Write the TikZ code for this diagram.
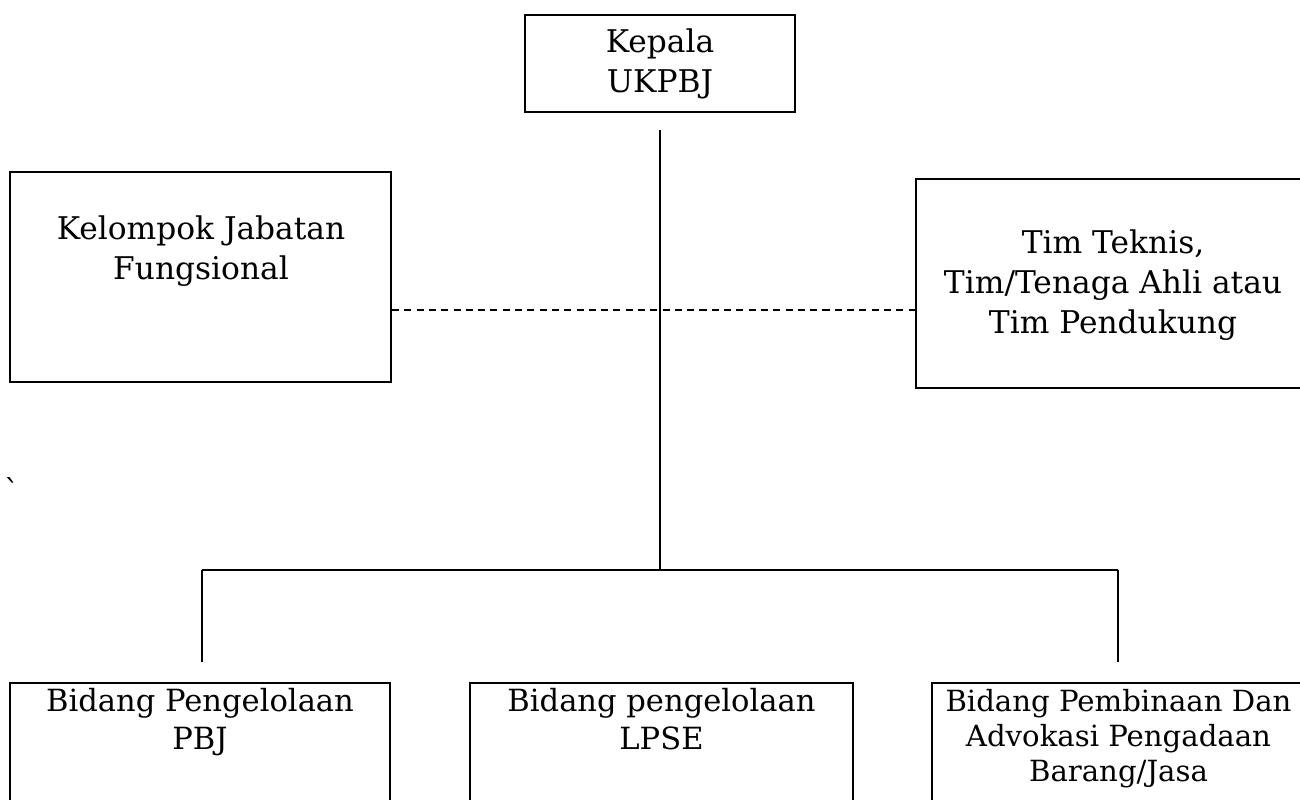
\documentclass[tikz,border=0pt]{standalone}
\usepackage{fontspec}
\setmainfont{DejaVu Serif}
\usepackage{tikz}
\usetikzlibrary{positioning}
\tikzset{
    org box/.style={
        draw,
        line width=1.2pt,
        inner sep=0pt
    },
    org text/.style={
        align=center,
        inner sep=0pt,
        font=\fontsize{17.8}{22.8}\selectfont
    },
    org small text/.style={
        org text,
        font=\fontsize{17.4}{21.6}\selectfont
    },
    org tiny text/.style={
        org text,
        font=\fontsize{16.6}{19.9}\selectfont
    },
    org line/.style={line width=0.9pt},
    org dashed/.style={line width=0.6pt, dash pattern=on 4pt off 3pt}
}

\begin{document}
\begin{tikzpicture}[x=0.02cm, y=-0.02cm]
    \clip (0,0) rectangle (1300,799);
    \fill[white] (0,0) rectangle (1300,799);

    % top level
    \node[org box, org text, minimum width=5.4cm, minimum height=1.94cm] (kepala) at (660,63.5) {Kepala\\UKPBJ};

    % staff boxes
    \node[org box, minimum width=7.62cm, minimum height=4.2cm] (kjf) at (200.5,277) {};
    \node[org text] (kjf text) at (201,251) {Kelompok Jabatan\\Fungsional};
    \node[org box, minimum width=7.78cm, minimum height=4.18cm] (tim) at (1110,283.5) {};
    \node[org text] (tim text) at (1113,285) {Tim Teknis,\\Tim/Tenaga Ahli atau\\Tim Pendukung};

    % bidang
    \node[org box, minimum width=7.6cm, minimum height=2.94cm] (pbj) at (200,756.5) {};
    \node[org small text, below=0.12cm of pbj.north] (pbj text) {Bidang Pengelolaan\\PBJ};
    \node[org box, minimum width=7.66cm, minimum height=2.94cm] (lpse) at (661.5,756.5) {};
    \node[org small text, below=0.12cm of lpse.north] (lpse text) {Bidang pengelolaan\\LPSE};
    \node[org box, minimum width=7.46cm, minimum height=2.94cm] (advokasi) at (1118.5,756.5) {};
    \node[org tiny text, below=0.14cm of advokasi.north] (advokasi text) {Bidang Pembinaan Dan\\Advokasi Pengadaan\\Barang/Jasa};

    \node[org text] (tick) at (12,490) {\textasciigrave};

    % connectors
    \coordinate (spine top) at (660,130);
    \coordinate (hub) at (660,570);
    \coordinate (dash y) at (660,310);
    \coordinate (bar left) at (202,570);
    \coordinate (bar right) at (1118,570);

    \draw[org line] (spine top) -- (hub);
    \draw[org line] (bar left) -- (bar right);
    \draw[org line] (bar left) -- ++(0,92);
    \draw[org line] (bar right) -- ++(0,92);
    \draw[org dashed] (kjf.east |- dash y) -- (tim.west |- dash y);
\end{tikzpicture}
\end{document}
